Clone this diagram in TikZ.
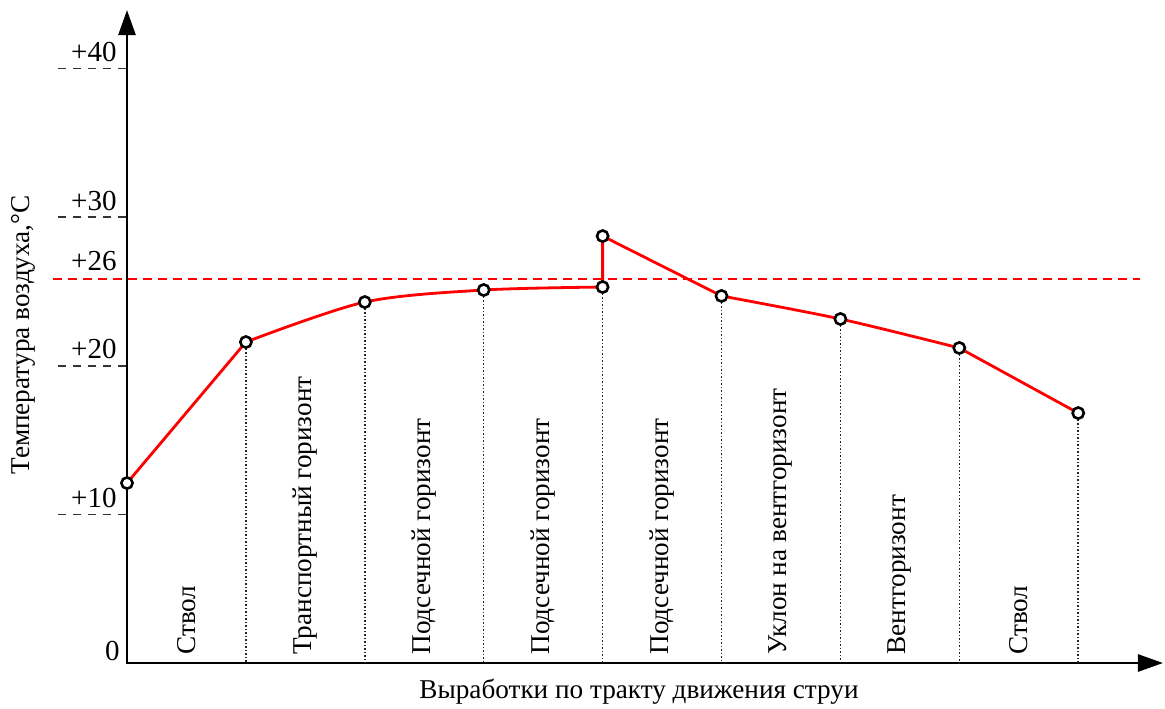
\documentclass[tikz,border=0pt]{standalone}
\usepackage{fontspec}
\setmainfont{Liberation Serif}
\usetikzlibrary{arrows.meta, positioning, backgrounds}
\tikzstyle{axis} = [line width=1.3pt, {Triangle[length=12.5pt,width=8.5pt]}-{Triangle[length=12.5pt,width=8.5pt]}]
\tikzstyle{curve} = [line width=1.4pt, red, line join=round]
\tikzstyle{ptmark} = [circle, draw=black, fill=white, line width=1.3pt, minimum size=5.6pt, inner sep=0pt]
\tikzstyle{tickline} = [line width=0.75pt, black!80, dash pattern=on 4pt off 3.5pt]
\tikzstyle{limit} = [red, line width=0.75pt, dash pattern=on 4.5pt off 3pt]
\tikzstyle{drop} = [densely dotted, line width=0.75pt, black!85]
\tikzstyle{ticklabel} = [anchor=base east, font=\fontsize{14.5}{17}\selectfont, inner sep=0pt]
\tikzstyle{section} = [rotate=90, anchor=west, font=\fontsize{13.6}{16}\selectfont, inner sep=0pt]
\tikzstyle{title} = [font=\fontsize{13.6}{16}\selectfont, inner sep=0pt]

\begin{document}
\begin{tikzpicture}[x=59.45pt, y=7.43pt]
\useasboundingbox (-63.5pt,-22.5pt) rectangle (519pt,331.5pt);

% Axes
\coordinate (o) at (0,0);
\coordinate (ytip) at (0,43.94);
\coordinate (xtip) at (8.713,0);
\draw [axis] (ytip) -- (o) -- (xtip);

% Ticks
\foreach \t in {10,20,30,40} {
  \coordinate (t\t) at (0,\t);
  \draw [tickline] (-0.58,\t) -- (t\t);
  \node [ticklabel] at ([xshift=-5pt, yshift=3.5pt]t\t) {+\t};
}
\node [ticklabel] (zero) at ([xshift=-3.5pt, yshift=1.5pt]o) {0};

% Limit 26
\coordinate (l26a) at (-0.62,25.85);
\coordinate (l26b) at (8.52,25.85);
\draw [limit] (l26a) -- (l26b);
\node [ticklabel] (lab26) at ([xshift=-5pt, yshift=4pt]0,25.85) {+26};

% Points
\node (p0) [ptmark] at (0,12.11) {};
\node (p1) [ptmark] at (1,21.6) {};
\node (p2) [ptmark] at (2,24.29) {};
\node (p3) [ptmark] at (3,25.1) {};
\node (p4) [ptmark] at (4,25.3) {};
\node (p4t) [ptmark] at (4,28.73) {};
\node (p5) [ptmark] at (5,24.7) {};
\node (p6) [ptmark] at (6,23.15) {};
\node (p7) [ptmark] at (7,21.2) {};
\node (p8) [ptmark] at (8,16.82) {};

% Curve
\begin{scope}[on background layer]
\draw [curve] (p0.center) -- (p1.center);
\draw [curve] plot [smooth, tension=0.5] coordinates {(p1) (p2) (p3) (p4)};
\draw [curve] (p4.center) -- (p4t.center) -- (p5.center);
\draw [curve] plot [smooth, tension=0.5] coordinates {(p5) (p6) (p7)};
\draw [curve] (p7.center) -- (p8.center);
\end{scope}

% Drops
\foreach \i in {1,...,8} {
  \draw [drop] (p\i.south) -- (p\i |- o);
}

% Sections
\node [section] (s1) at ([yshift=4pt]0.5,0) {Ствол};
\node [section] (s2) at ([yshift=4pt]1.5,0) {Транспортный горизонт};
\node [section] (s3) at ([yshift=4pt]2.5,0) {Подсечной горизонт};
\node [section] (s4) at ([yshift=4pt]3.5,0) {Подсечной горизонт};
\node [section] (s5) at ([yshift=4pt]4.5,0) {Подсечной горизонт};
\node [section] (s6) at ([yshift=4pt]5.5,0) {Уклон на вентгоризонт};
\node [section] (s7) at ([yshift=4pt]6.5,0) {Вентгоризонт};
\node [section] (s8) at ([yshift=4pt]7.5,0) {Ствол};

% Titles
\node [title, rotate=90] (ytitle) at (-52pt,164pt) {Температура воздуха,°С};
\node [title] (xtitle) at (256pt,-14.5pt) {Выработки по тракту движения струи};

\end{tikzpicture}
\end{document}
